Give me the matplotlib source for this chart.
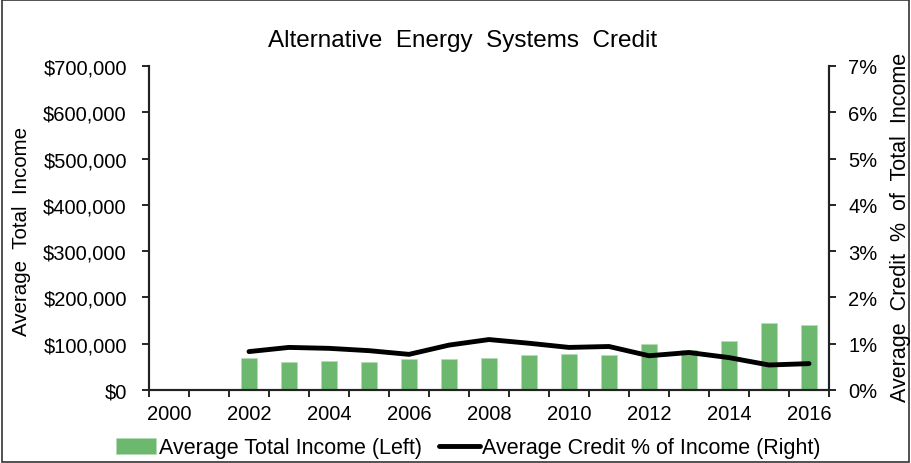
import numpy as np
import matplotlib.pyplot as plt
from matplotlib.patches import Rectangle
from matplotlib.ticker import FuncFormatter, FixedLocator

plt.rcParams['font.family'] = ['Liberation Sans', 'DejaVu Sans']

years = list(range(2000, 2017))
# average total income per year (no data for 2000-2001)
income = [np.nan, np.nan, 70000, 60000, 63500, 60000, 66000, 66000, 68500,
          75600, 78400, 75600, 99400, 85700, 105800, 144000, 140400]
# average credit as percent of income
credit_pct = [np.nan, np.nan, 0.83, 0.92, 0.90, 0.85, 0.77, 0.97, 1.09,
              1.01, 0.92, 0.94, 0.74, 0.81, 0.70, 0.54, 0.57]

x = np.arange(len(years))
W, H = 912, 464

fig = plt.figure(figsize=(W / 100, H / 100), dpi=100)
ax = fig.add_axes([149 / W, 1 - 391 / H, 680 / W, 324 / H])
ax2 = ax.twinx()

ax.bar(x, income, width=0.4, color='#6cb86e', edgecolor='#b5dcb6', linewidth=0.6,
       label='Average Total Income (Left)')
ax2.plot(x, credit_pct, color='black', linewidth=3.5, solid_capstyle='round',
         label='Average Credit % of Income (Right)')

ax.set_xlim(-0.5, len(years) - 0.5)
ax.set_ylim(0, 700000)
ax2.set_ylim(0, 7)
ax.set_yticks(np.arange(0, 700001, 100000))
ax2.set_yticks(np.arange(0, 8, 1))
ax.yaxis.set_major_formatter(FuncFormatter(lambda v, p: f'${v:,.0f}'))
ax2.yaxis.set_major_formatter(FuncFormatter(lambda v, p: f'{v:.0f}%'))

# tick marks between categories, labels on every other year
ax.xaxis.set_major_locator(FixedLocator(np.arange(-0.5, len(years), 1)))
ax.xaxis.set_major_formatter(FuncFormatter(lambda v, p: ''))
ax.xaxis.set_minor_locator(FixedLocator(x[::2]))
ax.set_xticklabels([str(y) for y in years[::2]], minor=True)
ax.tick_params(axis='x', which='minor', length=0, labelsize=14.5, pad=10)
ax.tick_params(axis='x', which='major', length=5, direction='out', width=1.2)
ax.tick_params(axis='y', length=5, direction='out', width=1.2, labelsize=14.5, pad=11)
ax2.tick_params(axis='y', length=5, direction='out', width=1.2, labelsize=14.5, pad=9)

for a in (ax, ax2):
    a.spines['top'].set_visible(False)
    for s in ('left', 'right', 'bottom'):
        a.spines[s].set_linewidth(1.5)
        a.spines[s].set_color('#222222')

fig.text(22 / W, 1 - 232 / H, 'Average  Total  Income', rotation=90, ha='center', va='center',
         fontsize=14.8)
fig.text(901 / W, 1 - 227 / H, 'Average  Credit  %  of  Total  Income', rotation=90,
         ha='center', va='center', fontsize=15.5)
fig.text(463 / W, 1 - 41 / H, 'Alternative  Energy  Systems  Credit', ha='center', va='center',
         fontsize=17.5)

h1, l1 = ax.get_legend_handles_labels()
h2, l2 = ax2.get_legend_handles_labels()
fig.legend(h1 + h2, l1 + l2, loc='center', bbox_to_anchor=(468 / W, 1 - 449 / H), ncol=2,
           frameon=False, fontsize=15.5, handlelength=1.9, handletextpad=0.1, columnspacing=0.8)

fig.patches.append(Rectangle((0.002, 0.003), 0.995, 0.994, transform=fig.transFigure,
                             fill=False, edgecolor='#333333', linewidth=1.2))

fig.savefig('out.png', dpi=100)
